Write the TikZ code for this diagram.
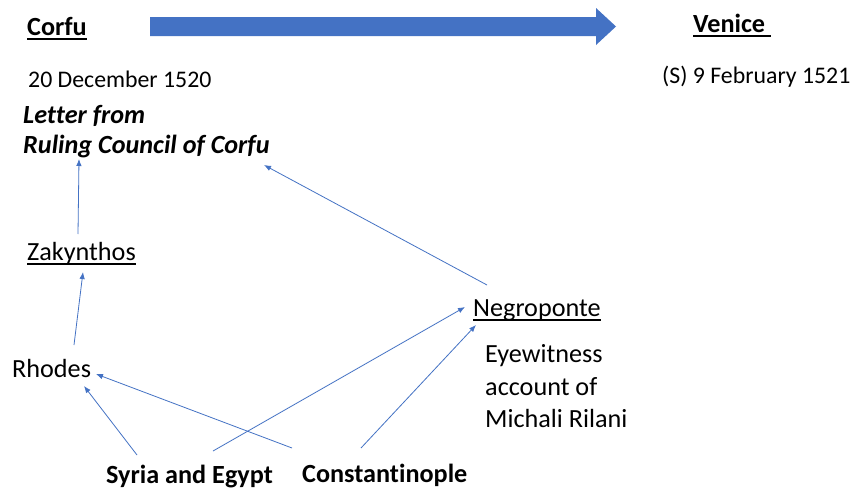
\documentclass[tikz,border=0pt]{standalone}
\usepackage{fontspec}
\setmainfont[Ligatures={NoCommon}]{Carlito}
\usetikzlibrary{arrows.meta}
\definecolor{blu}{HTML}{4472C4}
\newcommand{\ulx}[1]{\setbox0\hbox{#1}\rlap{\rule[-4.5pt]{\wd0}{1.1pt}}\box0}
\begin{document}
\begin{tikzpicture}[x=1pt,y=-1pt,
  txt/.style={anchor=base west,inner sep=0pt,font=\fontsize{26.2}{31}\selectfont},
  dtxt/.style={txt,font=\fontsize{23.8}{29}\selectfont},
  link/.style={draw=blu,line width=0.8pt,-{Latex[length=7pt,width=5.5pt]}}]
\useasboundingbox (0,0) rectangle (852,490);
\fill[white] (0,0) rectangle (852,490);
% big arrow
\fill[blu] (150,17) -- (596,17) -- (596,8) -- (616,26.5) -- (596,45) -- (596,36) -- (150,36) -- cycle;
\node[txt] (corfu) at (27,35) {\bfseries\ulx{Corfu}};
\node[txt] (venice) at (693,32) {\bfseries\ulx{Venice\ }};
\node[dtxt] (date1) at (28,87) {20 December 1520};
\node[dtxt] (date2) at (662,83) {(S) 9 February 1521};
\node[txt] (letter1) at (23,123) {\bfseries\itshape Letter from};
\node[txt] (letter2) at (23,153) {\bfseries\itshape Ruling Council of Corfu};
\node[txt] (zak) at (27,260) {\ulx{Zakynthos}};
\node[txt] (rhodes) at (12,377) {Rhodes};
\node[txt] (negro) at (473,316) {\ulx{Negroponte}};
\node[txt] (eye1) at (485,362) {Eyewitness};
\node[txt] (eye2) at (485,395) {account of};
\node[txt] (eye3) at (485,427) {Michali Rilani};
\node[txt] (syria) at (106,483) {\bfseries Syria and Egypt};
\node[txt] (const) at (302,482) {\bfseries Constantinople};
% connector ends
\coordinate (zakTop) at (78,234);
\coordinate (letterA) at (79,159);
\coordinate (negroTop) at (487,285);
\coordinate (letterB) at (264,165);
\coordinate (rhodesTop) at (74,345);
\coordinate (zakBot) at (83,272);
\coordinate (syriaL) at (137,455);
\coordinate (rhodesA) at (84,386);
\coordinate (constL) at (292,448);
\coordinate (rhodesB) at (96,374);
\coordinate (syriaR) at (213,451);
\coordinate (negroA) at (465,307);
\coordinate (constR) at (361,448);
\coordinate (negroB) at (476,325);
\draw[link] (zakTop) -- (letterA);
\draw[link] (negroTop) -- (letterB);
\draw[link] (rhodesTop) -- (zakBot);
\draw[link] (syriaL) -- (rhodesA);
\draw[link] (constL) -- (rhodesB);
\draw[link] (syriaR) -- (negroA);
\draw[link] (constR) -- (negroB);
\end{tikzpicture}
\end{document}
